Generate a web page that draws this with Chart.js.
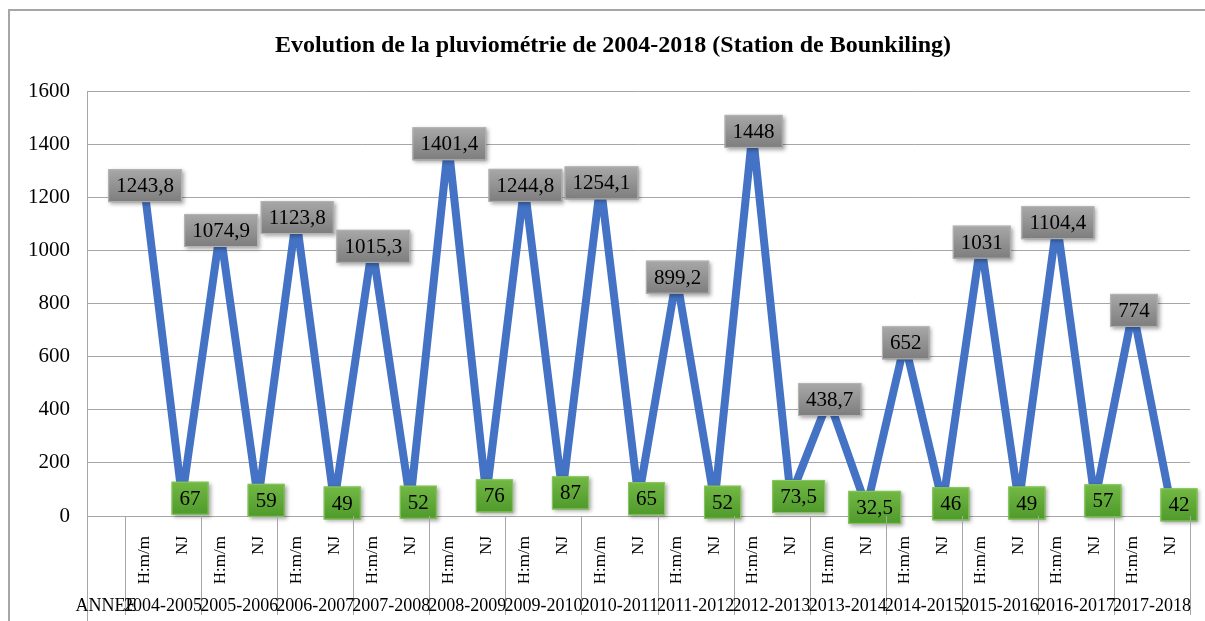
<!DOCTYPE html>
<html>
<head>
<meta charset="utf-8">
<script src="https://cdn.jsdelivr.net/npm/chart.js@4/dist/chart.umd.min.js"></script>
<style>
  body { margin: 0; background: #fff; }
  #wrap { width: 1205px; height: 621px; }
</style>
</head>
<body>
<div id="wrap"><canvas id="myChart" width="1205" height="621"></canvas></div>
<script>
// donnees
const annees = ["2004-2005","2005-2006","2006-2007","2007-2008","2008-2009","2009-2010","2010-2011",
                "2011-2012","2012-2013","2013-2014","2014-2015","2015-2016","2016-2017","2017-2018"];
const hauteur = [1243.8, 1074.9, 1123.8, 1015.3, 1401.4, 1244.8, 1254.1, 899.2, 1448, 438.7, 652, 1031, 1104.4, 774];
const nbJours = [67, 59, 49, 52, 76, 87, 65, 52, 73.5, 32.5, 46, 49, 57, 42];
const yTicks = [0, 200, 400, 600, 800, 1000, 1200, 1400, 1600];
const titre = "Evolution de la pluviométrie de 2004-2018 (Station de Bounkiling)";

// categories : une case vide "ANNEE" puis H:m/m et NJ pour chaque annee
let labels = [""];
let valeurs = [null];
for (let i = 0; i < annees.length; i++) {
  labels.push("H:m/m", "NJ");
  valeurs.push(hauteur[i], nbJours[i]);
}

const serif = "'Liberation Serif', 'DejaVu Serif', serif";

function fmt(v) {
  return String(v).replace(".", ",");
}

// cadre, titre, etiquettes des annees et separateurs
const decor = {
  id: "decor",
  beforeDraw(chart) {
    const ctx = chart.ctx;
    ctx.save();
    ctx.fillStyle = "#fff";
    ctx.fillRect(0, 0, chart.width, chart.height);
    ctx.strokeStyle = "#a6a6a6";
    ctx.lineWidth = 2;
    ctx.strokeRect(9, 10, 1210, 700);
    ctx.fillStyle = "#000";
    ctx.font = "bold 24px " + serif;
    ctx.textAlign = "center";
    ctx.textBaseline = "middle";
    ctx.fillText(titre, 613, 46);
    ctx.restore();
  },
  afterDraw(chart) {
    const ctx = chart.ctx;
    const x = chart.scales.x;
    const area = chart.chartArea;
    const w = x.getPixelForValue(1) - x.getPixelForValue(0);
    ctx.save();
    ctx.strokeStyle = "#a6a6a6";
    ctx.lineWidth = 1;
    // ligne gauche sur toute la hauteur
    ctx.beginPath();
    ctx.moveTo(Math.round(area.left) + 0.5, area.top);
    ctx.lineTo(Math.round(area.left) + 0.5, chart.height);
    ctx.stroke();
    // separateurs des annees
    for (let k = 1; k <= labels.length; k += 2) {
      const px = Math.round(x.getPixelForValue(k) - w / 2) + 0.5;
      ctx.beginPath();
      ctx.moveTo(px, area.bottom);
      ctx.lineTo(px, chart.height - 6);
      ctx.stroke();
    }
    ctx.fillStyle = "#000";
    ctx.font = "18px " + serif;
    ctx.textAlign = "center";
    ctx.textBaseline = "middle";
    ctx.fillText("ANNEE", x.getPixelForValue(0), 606);
    for (let i = 0; i < annees.length; i++) {
      const cx = (x.getPixelForValue(1 + 2 * i) + x.getPixelForValue(2 + 2 * i)) / 2;
      ctx.fillText(annees[i], cx, 606);
    }
    ctx.restore();
  },
  afterDatasetsDraw(chart) {
    const ctx = chart.ctx;
    const meta = chart.getDatasetMeta(0);
    ctx.save();
    ctx.font = "21px " + serif;
    ctx.textAlign = "center";
    ctx.textBaseline = "middle";
    meta.data.forEach((pt, i) => {
      const v = valeurs[i];
      if (v === null) return;
      const nj = labels[i] === "NJ";
      const txt = fmt(v);
      const tw = ctx.measureText(txt).width;
      const bw = tw + 16, bh = 33;
      const cx = pt.x + (nj ? 8 : 1), cy = pt.y;
      const bx = cx - bw / 2, by = cy - bh / 2;
      const g = ctx.createLinearGradient(0, by, 0, by + bh);
      if (nj) {
        g.addColorStop(0, "#72b844");
        g.addColorStop(1, "#4f9a2c");
      } else {
        g.addColorStop(0, "#a8a8a8");
        g.addColorStop(1, "#7d7d7d");
      }
      ctx.shadowColor = "rgba(0,0,0,0.35)";
      ctx.shadowBlur = 4;
      ctx.shadowOffsetX = 2;
      ctx.shadowOffsetY = 2;
      ctx.fillStyle = g;
      ctx.fillRect(bx, by, bw, bh);
      ctx.shadowColor = "transparent";
      ctx.strokeStyle = nj ? "#86c75c" : "#b4b4b4";
      ctx.lineWidth = 1;
      ctx.strokeRect(bx + 0.5, by + 0.5, bw - 1, bh - 1);
      ctx.fillStyle = "#000";
      ctx.fillText(txt, cx, cy + 1);
    });
    ctx.restore();
  }
};

new Chart("myChart", {
  type: "line",
  data: {
    labels: labels,
    datasets: [{
      data: valeurs,
      borderColor: "#4472c4",
      backgroundColor: "#4472c4",
      borderWidth: 8,
      borderJoinStyle: "round",
      tension: 0,
      pointStyle: "rectRot",
      pointRadius: 6,
      pointBorderWidth: 0,
      clip: false
    }]
  },
  options: {
    responsive: false,
    animation: false,
    layout: { padding: { left: 0, right: 15, top: 91, bottom: 0 } },
    plugins: {
      legend: { display: false },
      tooltip: { enabled: false },
      title: { display: false }
    },
    scales: {
      x: {
        offset: true,
        grid: { display: false },
        border: { display: false },
        ticks: {
          autoSkip: false,
          minRotation: 90,
          maxRotation: 90,
          padding: 12,
          color: "#000",
          font: { family: serif, size: 17 }
        },
        afterFit(s) { s.height = 105; }
      },
      y: {
        min: 0,
        max: 1600,
        afterBuildTicks(s) { s.ticks = yTicks.map(v => ({ value: v })); },
        grid: { color: "#a6a6a6", lineWidth: 1, drawTicks: false },
        border: { display: false },
        ticks: {
          padding: 17,
          color: "#000",
          font: { family: serif, size: 21 },
          callback: v => String(v)
        },
        afterFit(s) { s.width = 87; }
      }
    }
  },
  plugins: [decor]
});
</script>
</body>
</html>
